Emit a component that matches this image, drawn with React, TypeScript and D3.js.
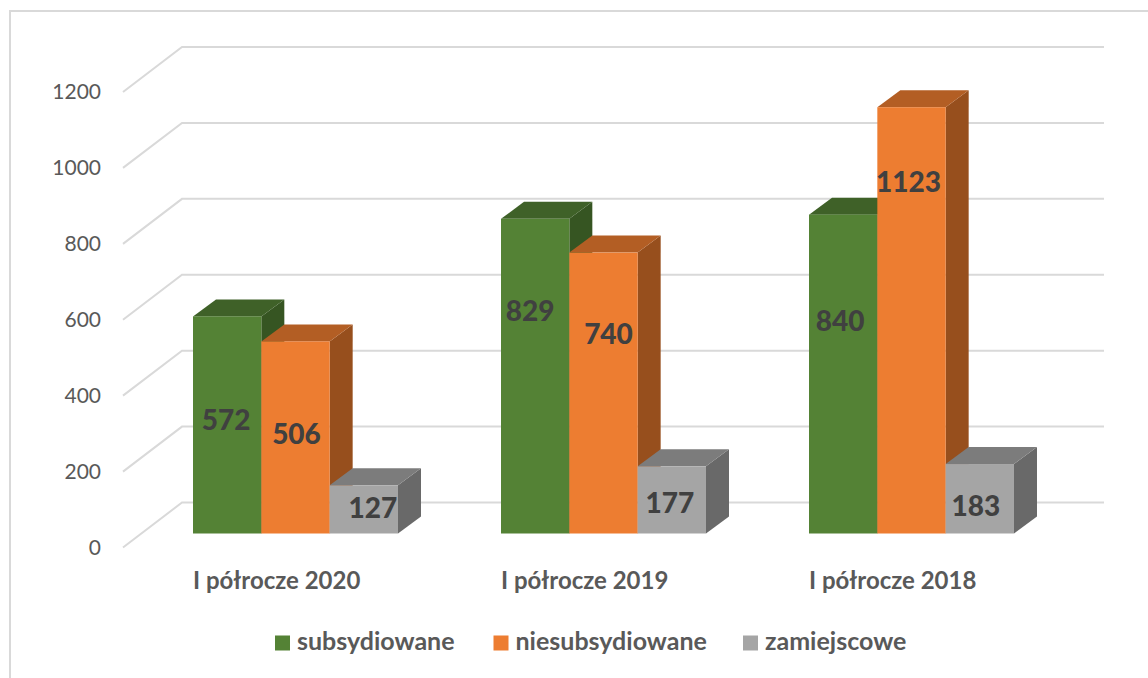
import React from 'react';
import * as d3 from 'd3';

const categories = ['I półrocze 2020', 'I półrocze 2019', 'I półrocze 2018'];
const seriesNames = ['subsydiowane', 'niesubsydiowane', 'zamiejscowe'];
const subsydiowane = [572, 829, 840];
const niesubsydiowane = [506, 740, 1123];
const zamiejscowe = [127, 177, 183];
const yTicks = [0, 200, 400, 600, 800, 1000, 1200];

const seriesValues = [subsydiowane, niesubsydiowane, zamiejscowe];

// front, top, side shades of each series
const shades = [
  ['#548235', '#3F6128', '#365522'],
  ['#ED7D31', '#B35E24', '#974F1D'],
  ['#A5A5A5', '#7C7C7C', '#696969'],
];

// manual label offsets from the middle of the front face, as in the source chart [series][category]
const labelNudge = [
  [[-1, -5], [-5, -65], [-3, -53]],
  [[1, -3], [5, -59], [-3, -138]],
  [[9, -1], [-2, 3], [-4, 7]],
];
const legendX = [275, 493.5, 743];

const width = 1148;
const height = 678;
const depthX = 23;
const depthY = 17;
const gridColor = '#D9D9D9';

const y = d3.scaleLinear().domain([0, 1200]).range([533.5, 78]);
const x0 = d3.scaleBand<string>().domain(categories).range([124, 1048]);
const x1 = d3.scaleBand<string>().domain(seriesNames).range([0, 205]);
const groupInset = 69;
const polygon = d3.line<number[]>().curve(d3.curveLinearClosed);

const App = () => {
  return (
    <svg
      width={width}
      height={height}
      style={{ position: 'absolute', left: 0, top: 0, background: '#fff' }}
      fontFamily="Lato, sans-serif"
    >
      {/* frame */}
      <path d={`M10,${height}V11H${width}`} fill="none" stroke={gridColor} strokeWidth={2} />

      {/* walls */}
      {yTicks.map(t => (
        <g key={t}>
          <path
            d={`M123,${y(t) + 14}L182,${y(t) - 31}H1104`}
            fill="none"
            stroke={gridColor}
            strokeWidth={2}
          />
          <text x={101} y={y(t) + 14} dy="0.35em" textAnchor="end" fontSize={21} fill="#595959">
            {t}
          </text>
        </g>
      ))}

      {/* bars */}
      {categories.map((c, ci) =>
        seriesNames.map((s, si) => {
          const left = x0(c)! + groupInset + x1(s)!;
          const right = left + x1.bandwidth();
          const top = y(seriesValues[si][ci]);
          const base = y(0);
          const [front, topShade, side] = shades[si];
          return (
            <g key={s + c}>
              <path
                d={polygon([[right, top], [right + depthX, top - depthY], [right + depthX, base - depthY], [right, base]])!}
                fill={side}
              />
              <path
                d={polygon([[left, top], [left + depthX, top - depthY], [right + depthX, top - depthY], [right, top]])!}
                fill={topShade}
              />
              <rect x={left} y={top} width={x1.bandwidth()} height={base - top} fill={front} />
            </g>
          );
        })
      )}

      {/* data labels */}
      {categories.map((c, ci) =>
        seriesNames.map((s, si) => {
          const v = seriesValues[si][ci];
          const [nx, ny] = labelNudge[si][ci];
          return (
            <text
              key={s + c}
              x={x0(c)! + groupInset + x1(s)! + x1.bandwidth() / 2 + nx}
              y={(y(v) + y(0)) / 2 + ny}
              dy="0.35em"
              textAnchor="middle"
              fontSize={28}
              fontWeight={900}
              fill="#404040"
            >
              {v}
            </text>
          );
        })
      )}

      {/* category labels */}
      {categories.map(c => (
        <text key={c} x={x0(c)! + groupInset} y={589} fontSize={24} fontWeight={700} fill="#595959">
          {c}
        </text>
      ))}

      {/* legend */}
      {seriesNames.map((s, i) => (
        <g key={s} transform={`translate(${legendX[i]},0)`}>
          <rect x={0} y={635.5} width={15} height={15} fill={shades[i][0]} />
          <text x={22} y={650} fontSize={25} fontWeight={700} fill="#595959">
            {s}
          </text>
        </g>
      ))}
    </svg>
  );
};

export default App;
